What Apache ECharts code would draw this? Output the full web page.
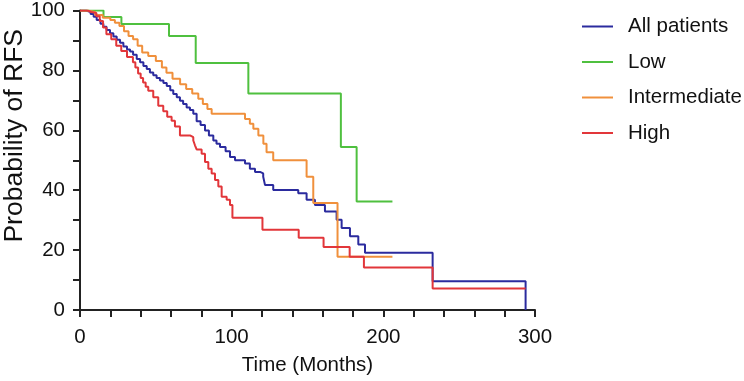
<!DOCTYPE html>
<html>
<head>
<meta charset="utf-8">
<script src="https://cdn.jsdelivr.net/npm/echarts@6/dist/echarts.min.js"></script>
<style>
  html, body { margin: 0; padding: 0; background: #fff; }
  #main { width: 744px; height: 381px; }
</style>
</head>
<body>
<div id="main"></div>
<script>
// Kaplan-Meier 曲线数据（月份 / 生存率%）
var allTimes = [0, 4, 7, 9, 11, 13.5, 15.4, 17.5, 19.8, 22, 24.2, 26.4, 28.6, 31, 33, 35, 37.4, 39.6, 41.8, 44, 46.1, 48.3, 50.5, 52.7, 55, 57.2, 59.5, 61.5, 63.8, 65.9, 68, 70.3, 72.5, 74.7, 76.9, 79.5, 82.4, 85, 87.9, 90, 92.3, 96, 98.9, 102.2, 108.8, 112, 115.4, 118.7, 120.8, 122, 127.4, 143.9, 149.4, 154.9, 161.5, 169.2, 172.5, 178, 183.5, 187.9, 232.5, 293.8];
var allSurv = [100, 99.5, 98.8, 97.9, 96.8, 95.6, 94.6, 93.5, 92.4, 91.3, 90.2, 89.2, 88, 87, 86.3, 85.2, 83.8, 82.7, 81.5, 80.5, 79.3, 78.4, 77.5, 76.6, 75.8, 74.8, 73.4, 72.1, 71, 69.9, 68.8, 67.6, 66.8, 65.5, 63, 61.8, 59.9, 58.3, 56.6, 55.5, 54.4, 53, 51.1, 50, 48.9, 47.2, 46.1, 45.6, 44.5, 41.7, 40.1, 39, 36.8, 35.1, 32.9, 30.1, 27.4, 24.6, 21.9, 19.1, 9.6, 0];

var lowTimes = [0, 15.5, 27.3, 58.7, 76.3, 111, 172, 182.4, 206];
var lowSurv = [100, 97.8, 95.5, 91.5, 82.5, 72.3, 54.4, 36.2, 36.2];

var intTimes = [0, 5, 10, 15, 20, 23, 26, 29, 32, 35, 38, 41, 45, 50, 54, 57, 61, 66, 70, 74, 78, 81, 84, 86.8, 108.8, 112, 114.3, 117.6, 120.9, 123, 127.4, 149.4, 153.8, 169.8, 206];
var intSurv = [100, 99.5, 98.5, 97.6, 96.8, 95.9, 94.8, 93.1, 91.5, 90.4, 88.2, 86, 84.8, 83.1, 81, 79.2, 77.2, 75.4, 73.8, 72.3, 70.5, 68.8, 67.1, 65.5, 63.8, 62.2, 60.5, 58.3, 55.5, 52.7, 50, 44.5, 35.7, 17.8, 17.8];

var highTimes = [0, 5, 7.4, 10.8, 13, 15.2, 17.4, 20.6, 23.9, 27.2, 31, 34.9, 36.5, 38.3, 40, 41.6, 43.3, 45, 48.3, 51.6, 54.9, 57.5, 60.4, 62.6, 65.9, 72.5, 74.7, 75.8, 76.9, 80.2, 82.4, 84.6, 86.8, 89, 91.2, 93.4, 96.7, 98.9, 100.5, 120.3, 144.2, 160.6, 177.8, 187.2, 232.5, 293.8];
var highSurv = [100, 99.5, 99.2, 98.1, 96.5, 94.3, 92.1, 90.4, 88.2, 86.5, 84.5, 82.7, 81, 79, 77.5, 76, 74.5, 73.2, 71, 68.2, 66.4, 64.5, 63.2, 61.3, 58.3, 57.7, 56.6, 55, 53.6, 52.2, 49.4, 47.2, 45.6, 43.4, 41.2, 37.8, 36.8, 35.1, 30.8, 26.8, 24.1, 21, 17.8, 14.2, 7.2, 7.2];

var seriesNames = ['All patients', 'Low', 'Intermediate', 'High'];
var seriesColors = ['#2b2b9e', '#4fc03f', '#f0903c', '#e2363a'];

var FONT = 'Liberation Sans, Arial, sans-serif';
var AXIS_COLOR = '#222';

function zip(xs, ys) {
    var out = [];
    for (var i = 0; i < xs.length; i++) {
        out.push([xs[i], ys[i]]);
    }
    return out;
}

function kmSeries(name, color, xs, ys) {
    return {
        name: name,
        type: 'line',
        step: 'end',
        showSymbol: false,
        symbol: 'none',
        data: zip(xs, ys),
        lineStyle: { color: color, width: 2 },
        itemStyle: { color: color }
    };
}

var myChart = echarts.init(document.getElementById('main'), null, { renderer: 'canvas' });

var axisCommon = {
    type: 'value',
    axisLine: { show: true, onZero: false, lineStyle: { color: AXIS_COLOR, width: 2 } },
    axisTick: { show: true, length: 7, lineStyle: { color: AXIS_COLOR, width: 2 } },
    minorTick: { show: true, length: 7, lineStyle: { color: AXIS_COLOR, width: 2 } },
    splitLine: { show: false },
    minorSplitLine: { show: false },
    axisLabel: { color: '#111', fontSize: 20.5, fontFamily: FONT },
    nameTextStyle: { color: '#111', fontSize: 20.5, fontFamily: FONT }
};

var option = {
    animation: false,
    backgroundColor: '#fff',
    grid: { left: 80, right: 209, top: 9, bottom: 70 },
    legend: {
        orient: 'vertical',
        left: 577,
        top: 11,
        icon: 'rect',
        itemWidth: 31,
        itemHeight: 2,
        itemGap: 14.5,
        data: seriesNames,
        textStyle: { color: '#111', fontSize: 20.5, fontFamily: FONT, padding: [0, 0, 0, 10] }
    },
    // 纵轴标题单独放置（参考图中偏上且字号更大）
    graphic: [{
        type: 'text',
        left: 1,
        top: 29,
        rotation: Math.PI / 2,
        style: {
            text: 'Probability of RFS',
            fill: '#111',
            font: '26.5px Liberation Sans, Arial, sans-serif'
        }
    }],
    xAxis: Object.assign({}, axisCommon, {
        min: 0,
        max: 300,
        interval: 100,
        minorTick: Object.assign({}, axisCommon.minorTick, { splitNumber: 5 }),
        axisLabel: Object.assign({}, axisCommon.axisLabel, { margin: 17 }),
        name: 'Time (Months)',
        nameLocation: 'middle',
        nameGap: 45
    }),
    yAxis: Object.assign({}, axisCommon, {
        min: 0,
        max: 100,
        interval: 20,
        minorTick: Object.assign({}, axisCommon.minorTick, { splitNumber: 2 }),
        axisLabel: Object.assign({}, axisCommon.axisLabel, { margin: 15 })
    }),
    series: [
        kmSeries(seriesNames[0], seriesColors[0], allTimes, allSurv),
        kmSeries(seriesNames[1], seriesColors[1], lowTimes, lowSurv),
        kmSeries(seriesNames[2], seriesColors[2], intTimes, intSurv),
        kmSeries(seriesNames[3], seriesColors[3], highTimes, highSurv)
    ]
};

myChart.setOption(option);
</script>
</body>
</html>
